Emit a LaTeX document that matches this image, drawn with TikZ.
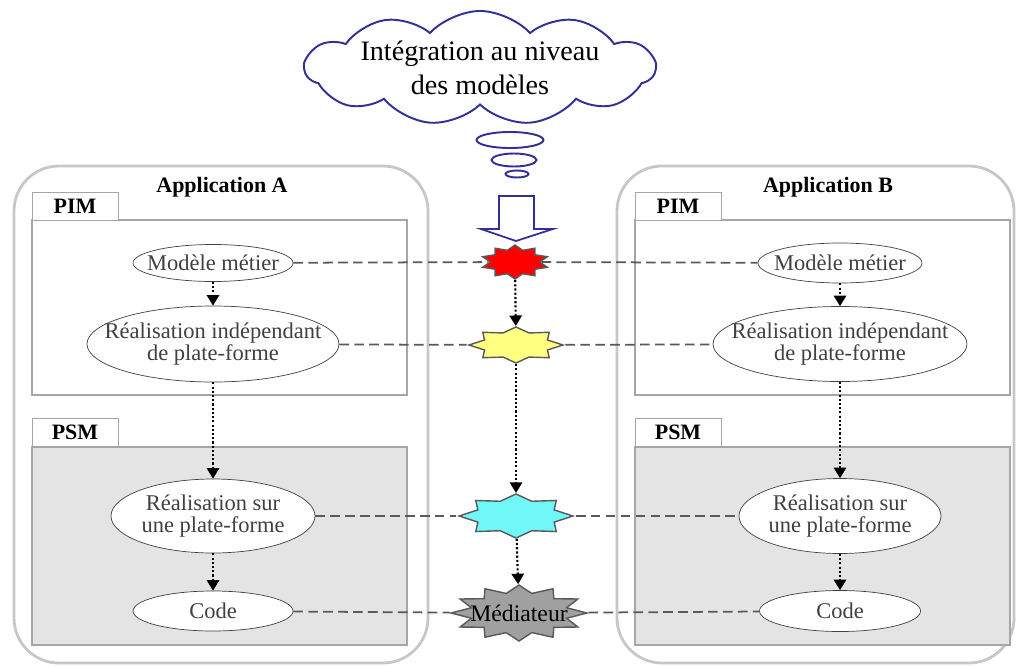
\documentclass[tikz,border=0pt]{standalone}
\usepackage{fontspec}
\setmainfont{Liberation Serif}
\usetikzlibrary{arrows.meta,positioning,shapes.geometric,shapes.symbols}
\definecolor{thinkblue}{RGB}{48,48,150}
\definecolor{psmgray}{RGB}{228,228,228}
\definecolor{burstyellow}{RGB}{255,255,128}
\definecolor{burstcyan}{RGB}{112,248,248}
\definecolor{burstgray}{RGB}{160,160,160}

\begin{document}
\begin{tikzpicture}[x=0.02cm, y=-0.02cm, font=\fontsize{12.8}{13}\selectfont,
  ell/.style 2 args={draw=black!75, ellipse, fill=white, text=black!75, align=center,
        inner xsep=-14pt, inner ysep=0pt, minimum width=#1*0.02cm, minimum height=#2*0.02cm},
  burst/.style={draw=black!65, line width=0.8pt, star, star point ratio=1.38, inner sep=0pt, transform shape},
  tab/.style={draw=black!35, fill=white, font=\bfseries\fontsize{12.5}{13}\selectfont,
        minimum width=86*0.02cm, minimum height=28*0.02cm, inner sep=0pt},
  link/.style={draw=black!65, line width=1pt, dash pattern=on 5.5pt off 3pt},
  flow/.style={draw=black, line width=1.2pt, dash pattern=on 1.2pt off 1.2pt,
        -{Triangle[length=6pt,width=7pt]}},
  bubble/.style={draw=thinkblue, line width=1.1pt, ellipse, fill=white, inner sep=0pt}]
\useasboundingbox (0,0) rectangle (1016,666);

% applications
\draw[black!22, line width=1.6pt, rounded corners=45*0.02cm] (14,166) rectangle (428,663);
\draw[black!22, line width=1.6pt, rounded corners=45*0.02cm] (617,166) rectangle (1014,663);
\node[font=\bfseries\fontsize{12.5}{13}\selectfont] (appa) at (222,187) {Application A};
\node[font=\bfseries\fontsize{12.5}{13}\selectfont] (appb) at (828,187) {Application B};

% PIM / PSM packages
\foreach \x in {32,635} {
  \draw[black!35, line width=0.7pt] (\x,220) rectangle (\x+375,395);
  \draw[black!35, line width=0.7pt, fill=psmgray] (\x,447) rectangle (\x+375,645);
}
\node[tab] (pima) at (75,206) {PIM};
\node[tab] (psma) at (75,432) {PSM};
\node[tab] (pimb) at (678,206) {PIM};
\node[tab] (psmb) at (678,432) {PSM};

% thought cloud
\node[cloud, draw=thinkblue, line width=1.1pt, fill=white, cloud puffs=11, cloud puff arc=95,
      cloud ignores aspect, minimum width=350*0.02cm, minimum height=96*0.02cm, inner sep=0pt,
      align=center, font=\fontsize{16}{19}\selectfont] (idea) at (480,68)
      {Intégration au niveau\\des modèles};
\foreach \n/\x/\y/\w/\h in {b1/510/140/67/16, b2/514/160/45/13, b3/517/174/23/7}
  \node[bubble, minimum width=\w*0.02cm, minimum height=\h*0.02cm] (\n) at (\x,\y) {};
\draw[thinkblue, line width=1pt, fill=white]
  (499,196) -- (499,229) -- (481,229) -- (516,241) -- (553,229) -- (534,229) -- (534,196) -- cycle;

% models, both sides
\node[ell={160}{37}] (ma) at (213,263) {Modèle métier};
\node[ell={252}{76}] (ia) at (213,344) {Réalisation indépendant\\de plate-forme};
\node[ell={204}{74}] (sa) at (213,516) {Réalisation sur\\une plate-forme};
\node[ell={160}{40}] (ca) at (213,611) {Code};
\node[ell={164}{40}] (mb) at (840,263) {Modèle métier};
\node[ell={254}{75}] (ib) at (840,344) {Réalisation indépendant\\de plate-forme};
\node[ell={202}{75}] (sb) at (840,516) {Réalisation sur\\une plate-forme};
\node[ell={161}{41}] (cb) at (840,611) {Code};

% integration points
\foreach \n/\x/\y/\w/\h/\col/\p in {sr/515/262/68/34/red/10, sy/516/345/94/36/burstyellow/8,
                                    sc/516/516/114/44/burstcyan/8, med/519/613/136/56/burstgray/12} {
  \begin{scope}[shift={(\x,\y)}, xscale=\w/\h]
    \node[burst, star points=\p, fill=\col, minimum size=\h*0.02cm] (\n) at (0,0) {};
  \end{scope}
}
\node[font=\fontsize{13.5}{14}\selectfont] (medtxt) at (med) {Médiateur};

% links
\foreach \l/\m/\r in {ma/sr/mb, ia/sy/ib, sa/sc/sb, ca/med/cb} {
  \draw[link] (\l) -- (\m);
  \draw[link] (\m) -- (\r);
}
\foreach \a/\b in {ma/ia, ia/sa, sa/ca, mb/ib, ib/sb, sb/cb, sr/sy, sy/sc, sc/med}
  \draw[flow] (\a) -- (\b);
\end{tikzpicture}
\end{document}
